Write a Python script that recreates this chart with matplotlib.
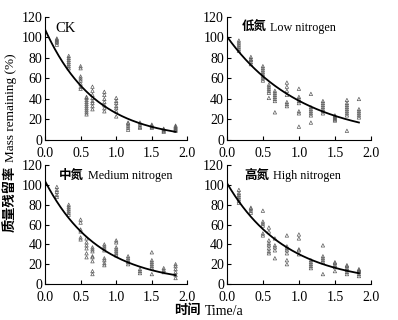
import matplotlib.pyplot as plt
import numpy as np

plt.rcParams['font.family'] = ['Liberation Serif', 'Noto Sans CJK SC']
plt.rcParams['font.size'] = 10

# sampling times (years)
t_sample = [1/6, 1/3, 0.5, 7/12, 2/3, 5/6, 1.0, 7/6, 4/3, 1.5, 5/3, 11/6]

# measured mass remaining (%), one list per sampling time
ck = [
    [93, 95, 96, 97, 98, 99],
    [70, 72, 74, 76, 78, 80, 82],
    [50, 52, 55, 58, 60, 62, 70, 72],
    [25, 27, 29, 31, 33, 35, 37, 39, 41, 42],
    [30, 33, 36, 38, 41, 44, 48, 52],
    [28, 31, 34, 37, 40, 44, 47],
    [23, 28, 31, 33, 36, 38, 41],
    [10, 12, 14, 16, 17],
    [12, 13, 15, 17],
    [12, 13, 14, 15],
    [8, 9, 10, 11],
    [9, 10, 11, 12, 13, 14],
]
low_n = [
    [87, 89, 91, 93, 95, 97],
    [74, 76, 78, 79, 81],
    [58, 60, 62, 64, 66, 68, 70, 72],
    [41, 46, 48, 50, 52, 54],
    [27, 38, 40, 42, 44, 46, 48],
    [33, 35, 37, 44, 48, 52, 56],
    [13, 26, 28, 36, 38, 40, 42, 50],
    [17, 24, 26, 28, 30, 32, 45],
    [26, 28, 30, 32, 34, 36, 38],
    [19, 20, 21, 22, 23, 24],
    [9, 24, 26, 28, 30, 32, 34, 36, 39],
    [22, 24, 26, 28, 30, 40],
]
medium_n = [
    [88, 90, 93, 95, 98],
    [70, 72, 74, 76, 78, 80],
    [45, 47, 53, 55, 62, 65],
    [27, 31, 36, 39, 42, 46],
    [10, 13, 23, 27, 28, 33, 35, 37],
    [19, 21, 24, 26, 34, 36, 38, 40],
    [29, 31, 33, 35, 37, 42, 44],
    [20, 22, 24, 26, 28],
    [11, 13, 15],
    [10, 16, 18, 20, 22, 24, 32],
    [12, 14, 16],
    [6, 9, 12, 15, 18, 20],
]
high_n = [
    [82, 84, 86, 88, 90, 92, 95],
    [72, 74, 76, 77],
    [49, 51, 59, 61, 63, 74],
    [31, 33, 36, 39, 41, 44, 53, 57],
    [26, 34, 37, 39, 46],
    [20, 24, 31, 34, 36, 38, 49],
    [30, 34, 35, 46, 50],
    [16, 18, 20, 22, 24],
    [10, 22, 24, 26, 28, 39],
    [13, 17, 19, 21, 22],
    [10, 12, 14, 16, 18, 19],
    [8, 10, 12, 13, 14, 15],
]

# fitted single exponential y = a*exp(-k t)
fit_a = [108, 101, 104, 102]
fit_k = [1.42, 0.97, 1.34, 1.22]

titles_cn = ['', '低氮', '中氮', '高氮']
titles_en = ['CK', 'Low nitrogen', 'Medium nitrogen', 'High nitrogen']
datasets = [ck, low_n, medium_n, high_n]

fig = plt.figure(figsize=(3.98, 3.2), dpi=100)
boxes = [
    [0.113, 0.5625, 0.358, 0.3845],
    [0.570, 0.5625, 0.362, 0.3845],
    [0.113, 0.1125, 0.358, 0.3715],
    [0.570, 0.1125, 0.362, 0.3715],
]
title_x = [0.07, 0.1, 0.1, 0.12]

for i in range(4):
    ax = fig.add_axes(boxes[i])
    for t, vals in zip(t_sample, datasets[i]):
        ax.scatter([t] * len(vals), vals, marker='^', s=6, facecolors='none',
                   edgecolors='#5a5a5a', linewidths=0.5, zorder=2)
    tt = np.linspace(0, t_sample[-1], 200)
    ax.plot(tt, fit_a[i] * np.exp(-fit_k[i] * tt), color='black', lw=1.3,
            zorder=3)
    ax.set_xlim(0, 2.0)
    ax.set_ylim(0, 120)
    ax.set_xticks([0, 0.5, 1.0, 1.5, 2.0])
    ax.set_yticks([0, 20, 40, 60, 80, 100, 120])
    ax.set_xticklabels(['0.0', '0.5', '1.0', '1.5', '2.0'])
    ax.spines['top'].set_visible(False)
    ax.spines['right'].set_visible(False)
    ax.tick_params(direction='in', length=3, width=0.8)
    ax.tick_params(axis='x', pad=5)
    ax.tick_params(axis='y', pad=2)
    if titles_cn[i]:
        t1 = ax.text(title_x[i], 0.96, titles_cn[i], transform=ax.transAxes,
                     va='top', ha='left', fontsize=9, fontweight='bold')
        ax.annotate(titles_en[i], xy=(1, 0), xycoords=t1, xytext=(3, 0),
                    textcoords='offset points', va='bottom', ha='left',
                    fontsize=8.7)
    else:
        ax.text(title_x[i], 0.96, titles_en[i], transform=ax.transAxes,
                va='top', ha='left', fontsize=10.5)

# y label: Chinese part bold, English part regular
yl = fig.text(0.027, 0.275, '质量残留率', rotation=90, ha='center',
              va='bottom', fontsize=9.5, fontweight='bold')
ax.annotate('Mass remaining (%)', xy=(0.5, 1), xycoords=yl, xytext=(0, 3),
            textcoords='offset points', rotation=90, ha='center',
            va='bottom', fontsize=9.5, annotation_clip=False)

# x label
xl = fig.text(0.503, 0.028, '时间', ha='right', va='center', fontsize=9.5,
              fontweight='bold')
ax.annotate('Time/a', xy=(1, 0.5), xycoords=xl, xytext=(3, 0),
            textcoords='offset points', ha='left', va='center', fontsize=10,
            annotation_clip=False)

fig.savefig('out.png', dpi=100)
